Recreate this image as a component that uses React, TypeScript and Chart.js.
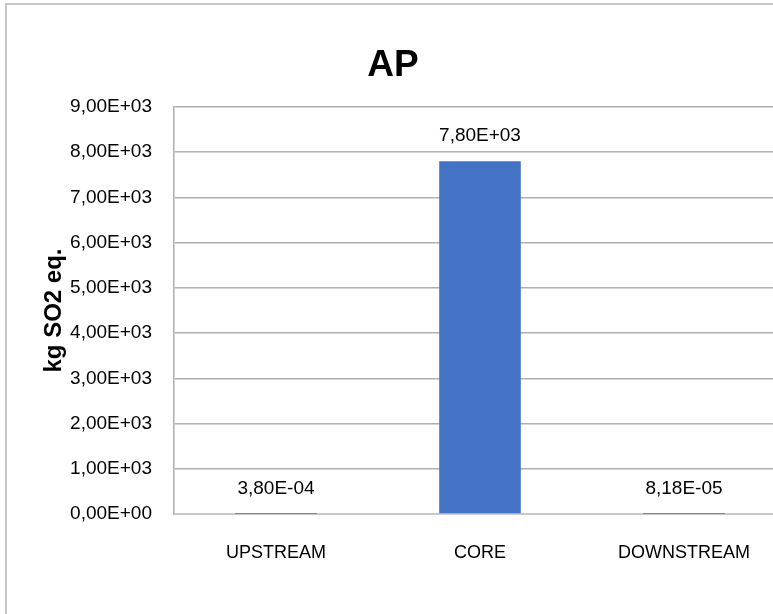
import React, { useEffect, useRef } from "react";
import { Chart, registerables } from "chart.js";

Chart.register(...registerables);

const categories = ["UPSTREAM", "CORE", "DOWNSTREAM"];
const apValues = [3.8e-4, 7800, 8.18e-5];
const yMin = 0;
const yMax = 9000;
const yStep = 1000;
const chartTitle = "AP";
const yAxisTitle = "kg SO2 eq.";

const FONT = "'Liberation Sans', Arial, sans-serif";

function sci(v: number): string {
  const s = v.toExponential(2); // e.g. 7.80e+3
  const [m, e] = s.split("e");
  const sign = e.startsWith("-") ? "-" : "+";
  const digits = e.replace(/^[+-]/, "").padStart(2, "0");
  return m.replace(".", ",") + "E" + sign + digits;
}

const valueLabelPlugin = {
  id: "valueLabels",
  afterDatasetsDraw(chart: any) {
    const ctx = chart.ctx;
    const meta = chart.getDatasetMeta(0);
    const data = chart.data.datasets[0].data as number[];
    ctx.save();
    ctx.font = `19px ${FONT}`;
    ctx.fillStyle = "#000000";
    ctx.textAlign = "center";
    ctx.textBaseline = "alphabetic";
    meta.data.forEach((bar: any, i: number) => {
      ctx.fillText(sci(data[i]), bar.x, bar.y - 20);
    });
    ctx.restore();
  },
};

export default function App() {
  const canvasRef = useRef<HTMLCanvasElement | null>(null);

  useEffect(() => {
    if (!canvasRef.current) return;
    const chart = new Chart(canvasRef.current, {
      type: "bar",
      data: {
        labels: categories,
        datasets: [
          {
            label: chartTitle,
            data: apValues,
            backgroundColor: "#4472C4",
            borderWidth: 0,
            categoryPercentage: 1,
            barPercentage: 0.4,
          },
        ],
      },
      options: {
        responsive: false,
        animation: false,
        layout: { padding: { left: 0, right: 4, top: 0, bottom: 0 } },
        plugins: {
          legend: { display: false },
          tooltip: { enabled: false },
          title: {
            display: true,
            text: chartTitle,
            color: "#000000",
            font: { family: FONT, size: 37, weight: "bold", lineHeight: 1.2 },
            padding: { top: 44, bottom: 18.6 },
          },
        },
        scales: {
          x: {
            grid: { display: false, drawTicks: false },
            border: { display: true, color: "#c8c8c8", width: 2 },
            ticks: {
              color: "#000000",
              font: { family: FONT, size: 18 },
              padding: 28,
              maxRotation: 0,
            },
            afterFit(scale: any) {
              scale.height = 100;
            },
          },
          y: {
            min: yMin,
            max: yMax,
            grid: { color: "#b0b0b0", lineWidth: 1.5, drawTicks: false },
            border: { display: true, color: "#b0b0b0", width: 1.5 },
            ticks: {
              stepSize: yStep,
              color: "#000000",
              font: { family: FONT, size: 19 },
              padding: 22,
              callback: (v: any) => sci(Number(v)),
            },
            title: {
              display: true,
              text: yAxisTitle,
              color: "#000000",
              font: { family: FONT, size: 24, weight: "bold", lineHeight: 1.2 },
              padding: { top: 40, bottom: 0 },
            },
            afterFit(scale: any) {
              scale.width = 174;
            },
          },
        },
      },
      plugins: [valueLabelPlugin],
    });
    return () => chart.destroy();
  }, []);

  return (
    <div
      style={{
        position: "fixed",
        left: 0,
        top: 0,
        width: 773,
        height: 614,
        overflow: "hidden",
        background: "#ffffff",
      }}
    >
      <canvas
        ref={canvasRef}
        width={790}
        height={614}
        style={{ position: "absolute", left: 0, top: 0, display: "block" }}
      />
      <div
        style={{
          position: "absolute",
          left: 5,
          top: 3,
          width: 900,
          height: 700,
          border: "2px solid #c6c6c6",
          boxSizing: "border-box",
          pointerEvents: "none",
        }}
      />
    </div>
  );
}
